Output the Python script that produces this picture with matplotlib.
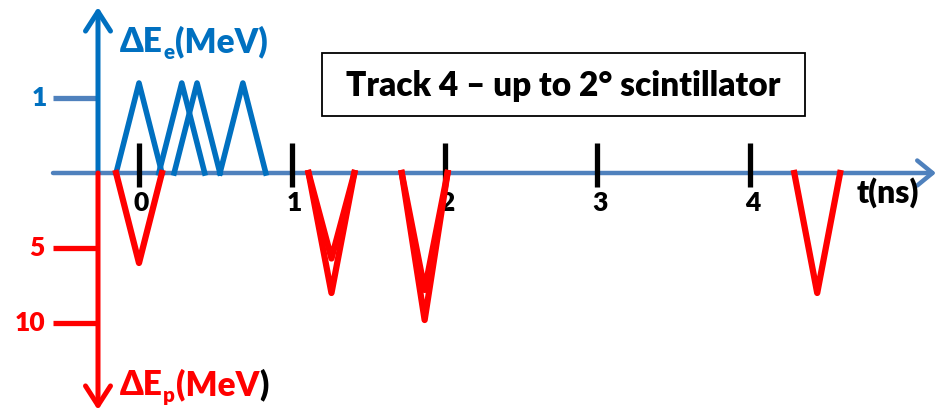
import matplotlib
matplotlib.use("Agg")
import matplotlib.pyplot as plt
from matplotlib.patches import Rectangle

# ---- data -------------------------------------------------------------
time_ticks = [0, 1, 2, 3, 4]
time_tick_labels = ["0", "1", "2", "3", "4"]

# electron energy deposits (triangular pulses): peak time [ns], height [MeV]
e_peak_t = [0.0, 0.28, 0.38, 0.68]
e_peak_E = [1.2, 1.2, 1.2, 1.2]

# proton energy deposits (inverted pulses): peak time [ns], depth [MeV]
p_peak_t = [0.0, 1.26, 1.26, 1.87, 1.87, 4.44]
p_peak_E = [6.0, 8.0, 5.7, 9.8, 7.8, 8.0]

pulse_half_width = 0.15  # ns

e_ticks = [1]
e_tick_labels = ["1"]
p_ticks = [5, 10]
p_tick_labels = ["5", "10"]

title_text = "Track 4 \u2013 up to 2\u00b0 scintillator"

# ---- style ------------------------------------------------------------
BLUE = "#0070C0"
AXBLUE = "#4F81BD"
RED = "#FF0000"
FONT = ["Lato", "DejaVu Sans"]
WEIGHT = "heavy"
plt.rcParams["font.family"] = FONT
plt.rcParams["font.weight"] = WEIGHT

W, H = 938, 413
fig = plt.figure(figsize=(W / 100, H / 100), dpi=100)

# time scale: 0 ns at x=139 px, 152.75 px per ns
px0, ppn = 139.0, 152.75
xlim = (-px0 / ppn, (W - px0) / ppn)

# baseline at 173 px from the top
base = 173
ax_e = fig.add_axes([0, (H - base) / H, 1, base / H])
ax_p = fig.add_axes([0, 0, 1, (H - base) / H])
ax_e.set_xlim(*xlim)
ax_p.set_xlim(*xlim)
ax_e.set_ylim(0, base / 75.0)          # 75 px per MeV
ax_p.set_ylim((H - base) / 15.0, 0)    # 15 px per MeV, pointing down
for a in (ax_e, ax_p):
    a.set_axis_off()

def tx(px):
    return (px - px0) / ppn

x_axis = tx(98)
x_tick0 = tx(53)

# ---- axes lines -------------------------------------------------------
# time axis
ax_e.annotate("", xy=(tx(936), 0), xytext=(x_tick0, 0),
              arrowprops=dict(arrowstyle="->,head_length=0.55,head_width=0.45",
                              color=AXBLUE, lw=3.2, shrinkA=0, shrinkB=0,
                              mutation_scale=20),
              annotation_clip=False, zorder=2)
# electron energy axis (up)
ax_e.annotate("", xy=(x_axis, (base - 7) / 75.0), xytext=(x_axis, 0),
              arrowprops=dict(arrowstyle="->,head_length=0.7,head_width=0.45",
                              color=BLUE, lw=3.6, shrinkA=0, shrinkB=0,
                              mutation_scale=20),
              annotation_clip=False, zorder=3)
# proton energy axis (down)
ax_p.annotate("", xy=(x_axis, (410 - base) / 15.0), xytext=(x_axis, 0),
              arrowprops=dict(arrowstyle="->,head_length=0.7,head_width=0.45",
                              color=RED, lw=3.6, shrinkA=0, shrinkB=0,
                              mutation_scale=20),
              annotation_clip=False, zorder=3)

# y ticks and labels
for v, lab in zip(e_ticks, e_tick_labels):
    ax_e.plot([x_tick0, x_axis], [v, v], color=AXBLUE, lw=3.8,
              solid_capstyle="butt", clip_on=False)
    ax_e.text(tx(47), v, lab, color=BLUE, fontsize=19, fontweight=WEIGHT,
              ha="right", va="center")
for v, lab in zip(p_ticks, p_tick_labels):
    ax_p.plot([x_tick0, x_axis], [v, v], color=RED, lw=3.8,
              solid_capstyle="butt", clip_on=False)
    ax_p.text(tx(45), v, lab, color=RED, fontsize=19, fontweight=WEIGHT,
              ha="right", va="center")

# time ticks
for t, lab in zip(time_ticks, time_tick_labels):
    ax_e.plot([t, t], [-14 / 75.0, 30 / 75.0], color="black", lw=3.8,
              solid_capstyle="butt", clip_on=False, zorder=4)
    ax_p.text(t + 0.015, 2.0, lab, color="black", fontsize=19,
              fontweight=WEIGHT, ha="center", va="center")

# ---- pulses -----------------------------------------------------------
hw = pulse_half_width
for t, e in zip(e_peak_t, e_peak_E):
    ax_e.plot([t - hw, t, t + hw], [0, e, 0], color=BLUE, lw=4.0,
              clip_on=False, zorder=5)
for t, e in zip(p_peak_t, p_peak_E):
    ax_p.plot([t - hw, t, t + hw], [0, e, 0], color=RED, lw=4.5,
              clip_on=False, zorder=5)

# ---- axis titles ------------------------------------------------------
def label(ax, x, y, parts, size):
    # parts: list of (text, color, is_subscript)
    t0 = ax.text(x, y, parts[0][0], color=parts[0][1], fontsize=size,
                 fontweight=WEIGHT, ha="left", va="baseline")
    prev, base_ref = t0, t0
    for s, c, sub in parts[1:]:
        if sub:
            prev = ax.annotate(s, xy=(1, 0), xycoords=prev,
                               xytext=(0.3, -3), textcoords="offset points",
                               color=c, fontsize=size * 0.62,
                               fontweight=WEIGHT, ha="left", va="bottom")
        else:
            # keep main text on the baseline of the first piece
            prev = ax.annotate(s, xy=(1, 0), xycoords=(prev, base_ref),
                               xytext=(0.3, 0), textcoords="offset points",
                               color=c, fontsize=size, fontweight=WEIGHT,
                               ha="left", va="bottom")
    return prev

label(ax_e, tx(120), (base - 52) / 75.0,
      [("\u0394E", BLUE, False), ("e", BLUE, True), ("(MeV)", BLUE, False)], 24)
label(ax_p, tx(120), (395 - base) / 15.0,
      [("\u0394E", RED, False), ("p", RED, True), ("(MeV", RED, False),
       (")", "black", False)], 24)

ax_p.text(4.90, 1.3, "t(ns)", color="black", fontsize=23,
          fontweight=WEIGHT, ha="center", va="center")

# ---- title box --------------------------------------------------------
fig.patches.append(Rectangle((322 / W, 1 - 116 / H), (805 - 322) / W,
                             (116 - 53) / H, transform=fig.transFigure,
                             facecolor="white", edgecolor="black", lw=1.3))
fig.text(563 / W, 1 - 86 / H, title_text, fontsize=24, fontweight=WEIGHT,
         color="black", ha="center", va="center")

fig.savefig("out.png", dpi=100)
